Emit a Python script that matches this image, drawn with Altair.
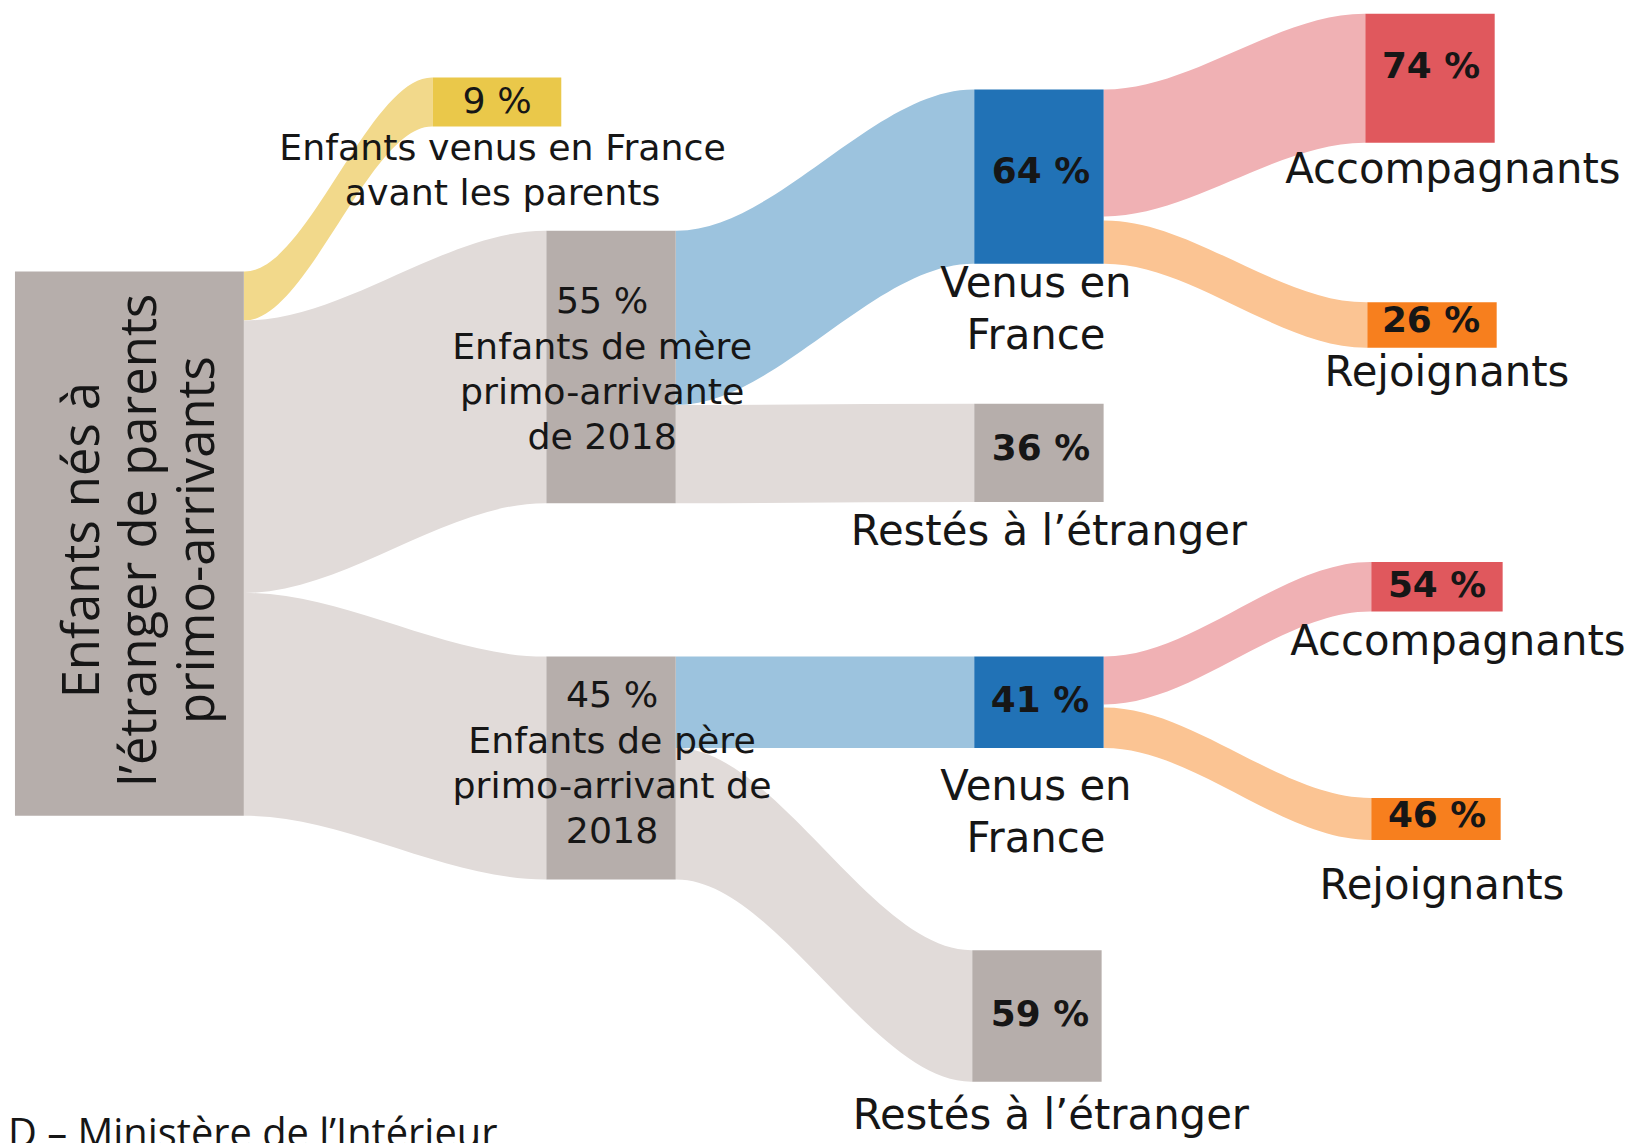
import altair as alt
import pandas as pd

# ---------------- data ----------------
node_ids = ["root", "avant", "mere", "pere", "venus_m", "restes_m", "acc_m", "rej_m",
            "venus_f", "restes_f", "acc_f", "rej_f"]
node_parent = [None, "root", "root", "root", "mere", "mere", "venus_m", "venus_m",
               "pere", "pere", "venus_f", "venus_f"]
node_pct = [100, 9, 55, 45, 64, 36, 74, 26, 41, 59, 54, 46]
node_kind = ["gris", "jaune", "gris", "gris", "bleu", "gris", "rouge", "orange",
             "bleu", "gris", "rouge", "orange"]
node_name = ["Enfants nés à\nl’étranger de parents\nprimo-arrivants",
             "Enfants venus en France\navant les parents",
             "Enfants de mère\nprimo-arrivante\nde 2018",
             "Enfants de père\nprimo-arrivant de\n2018",
             "Venus en\nFrance", "Restés à l’étranger", "Accompagnants", "Rejoignants",
             "Venus en\nFrance", "Restés à l’étranger", "Accompagnants", "Rejoignants"]
source_text = "D – Ministère de l’Intérieur"

# ---------------- styles ----------------
NODE_COLOR = {"gris": "#b6aeab", "jaune": "#eac84a", "bleu": "#2172b6",
              "rouge": "#e0585d", "orange": "#f77f1e"}
LINK_COLOR = {"gris": "#e1dbd9", "jaune": "#f2d98b", "bleu": "#9cc3de",
              "rouge": "#f0b1b4", "orange": "#fbc493"}
TXT = "#161616"

# ---------------- layout ----------------
K = 5.47  # pixels per percentage point of the whole
LINK_GAP = {"venus_m": 4, "venus_f": 3}  # white gap between outgoing links
NODE_X = {"root": (15, 245), "avant": (435, 564), "mere": (549, 679), "pere": (549, 679),
          "venus_m": (979, 1109), "restes_m": (979, 1109), "venus_f": (979, 1109),
          "restes_f": (977, 1107), "acc_m": (1372, 1502), "rej_m": (1374, 1504),
          "acc_f": (1378, 1510), "rej_f": (1378, 1508)}
NODE_TOP = {"root": 270, "avant": 75, "mere": 229, "pere": 657, "venus_m": 87,
            "restes_m": 403, "venus_f": 657, "restes_f": 952, "acc_m": 11, "rej_m": 301,
            "acc_f": 562, "rej_f": 799}
# anchor of the first line of each label
PCT_BOLD_POS = {"venus_m": (1046, 170), "restes_m": (1046, 448), "acc_m": (1438, 65),
                "rej_m": (1438, 320), "venus_f": (1045, 702), "restes_f": (1045, 1017),
                "acc_f": (1444, 586), "rej_f": (1444, 817)}
MID_POS = {"mere": (605, 301), "pere": (615, 697), "avant": (505, 147)}
RIGHT_POS = {"venus_m": (1041, 283), "restes_m": (1054, 532), "acc_m": (1460, 168),
             "rej_m": (1454, 372), "venus_f": (1041, 788), "restes_f": (1056, 1119),
             "acc_f": (1465, 642), "rej_f": (1449, 888)}
ROOT_POS = (99, 540)
SOURCE_POS = (8, 1150)

# ---------------- derived values ----------------
val = {}
for nid, par, p in zip(node_ids, node_parent, node_pct):
    if par is None:
        val[nid] = p
    elif par == "root" and nid != "avant":
        val[nid] = (val["root"] - val["avant"]) * p / 100
    else:
        val[nid] = val[par] * p / 100

kind = dict(zip(node_ids, node_kind))
pct = dict(zip(node_ids, node_pct))
name = dict(zip(node_ids, node_name))

node_rows = []
for nid in node_ids:
    x0, x1 = NODE_X[nid]
    y0 = NODE_TOP[nid]
    node_rows.append(dict(node=nid, x0=x0, x1=x1, y0=y0, y1=y0 + val[nid] * K,
                          fill=NODE_COLOR[kind[nid]]))
nodes_df = pd.DataFrame(node_rows)

xs = alt.Scale(domain=[8, 1644], nice=False, zero=False)
ys = alt.Scale(domain=[8, 1143], reverse=True, nice=False, zero=False)

link_layers = []
offset = dict(NODE_TOP)
for nid, par in zip(node_ids, node_parent):
    if par is None:
        continue
    h = val[nid] * K
    gap = LINK_GAP.get(par, 0)
    sx = NODE_X[par][1]
    tx = NODE_X[nid][0]
    sy = offset[par]
    sh = h - gap / 2
    offset[par] += h
    ty = NODE_TOP[nid]
    src_top = sy if offset[par] - h == NODE_TOP[par] else sy + gap / 2
    src_bot = src_top + sh
    pts = [(sx, src_top, src_bot), (sx + 1, src_top, src_bot),
           (tx - 1, ty, ty + h), (tx, ty, ty + h)]
    df = pd.DataFrame([dict(lx=float(x), ly0=float(a), ly1=float(b)) for x, a, b in pts])
    link_layers.append(
        alt.Chart(df).mark_area(interpolate="monotone", color=LINK_COLOR[kind[nid]]).encode(
            x=alt.X("lx:Q", scale=xs, axis=None),
            y=alt.Y("ly0:Q", scale=ys, axis=None),
            y2="ly1:Q",
        )
    )

pct_bold_df = pd.DataFrame([dict(x=PCT_BOLD_POS[n][0], y=PCT_BOLD_POS[n][1],
                                 t=f"{pct[n]} %") for n in PCT_BOLD_POS])
mid_rows = [dict(x=MID_POS[n][0], y=MID_POS[n][1],
                 t=(f"{pct[n]} %\n" + name[n]) if n != "avant" else name[n]) for n in MID_POS]
mid_rows.append(dict(x=(NODE_X["avant"][0] + NODE_X["avant"][1]) / 2,
                     y=NODE_TOP["avant"] + val["avant"] * K / 2, t=f"{pct['avant']} %"))
mid_df = pd.DataFrame(mid_rows)
right_df = pd.DataFrame([dict(x=RIGHT_POS[n][0], y=RIGHT_POS[n][1], t=name[n])
                         for n in RIGHT_POS])
root_df = pd.DataFrame([dict(x=ROOT_POS[0], y=ROOT_POS[1], t=name["root"])])
src_df = pd.DataFrame([dict(x=SOURCE_POS[0], y=SOURCE_POS[1], t=source_text)])

# ---------------- chart ----------------
nodes = alt.Chart(nodes_df).mark_rect().encode(
    x=alt.X("x0:Q", scale=xs, axis=None), x2="x1:Q",
    y=alt.Y("y0:Q", scale=ys, axis=None), y2="y1:Q",
    color=alt.Color("fill:N", scale=None),
)


def txt(df, **kw):
    return alt.Chart(df).mark_text(color=TXT, lineBreak="\n", **kw).encode(
        x=alt.X("x:Q", scale=xs, axis=None),
        y=alt.Y("y:Q", scale=ys, axis=None),
        text="t:N",
    )


pct_layer = txt(pct_bold_df, font="DejaVu Sans", fontWeight="bold", fontSize=36,
                align="center", baseline="middle")
mid_layer = txt(mid_df, font="DejaVu Sans", fontSize=36.5, lineHeight=45.5,
                align="center", baseline="middle")
right_layer = txt(right_df, font="DejaVu Sans", fontSize=42, lineHeight=52,
                  align="center", baseline="middle")
root_layer = txt(root_df, font="Open Sans", fontSize=51, lineHeight=58, angle=270,
                 align="center", baseline="alphabetic")
src_layer = txt(src_df, font="Open Sans", fontSize=40, align="left",
                baseline="alphabetic")

chart = alt.layer(*link_layers, nodes, pct_layer, mid_layer, right_layer, root_layer,
                  src_layer).properties(
    width=1636, height=1135, padding=0, autosize=alt.AutoSizeParams(type="none")
).configure(background="white", view=alt.ViewConfig(stroke=None))

chart.save("out.html", embed_options={"renderer": "svg", "actions": False})
